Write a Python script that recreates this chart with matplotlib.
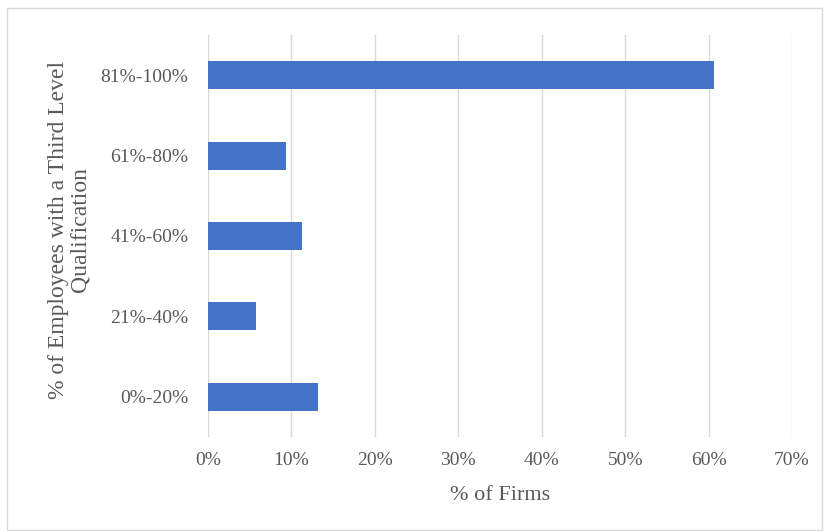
import matplotlib
matplotlib.use("Agg")
import matplotlib.pyplot as plt
from matplotlib.patches import Rectangle
from matplotlib.ticker import FuncFormatter

categories = ["0%-20%", "21%-40%", "41%-60%", "61%-80%", "81%-100%"]
values = [13.2, 5.7, 11.3, 9.4, 60.6]
xticks = [0, 10, 20, 30, 40, 50, 60, 70]

plt.rcParams['font.family'] = ['Liberation Serif', 'DejaVu Serif']
txt = '#595959'

fig = plt.figure(figsize=(8.24, 5.31), dpi=100)
fig.patches.append(Rectangle((7/824, 1/531), 815/824, 522/531, transform=fig.transFigure,
                             fill=False, edgecolor='#D9D9D9', linewidth=1))
ax = fig.add_axes([208/824, 1-437/531, 584/824, 402/531])
ax.barh(range(len(categories)), values, height=0.35, color='#4472C4', zorder=3)
ax.set_xlim(0, 70)
ax.set_ylim(-0.5, len(categories) - 0.5)
ax.set_xticks(xticks)
ax.xaxis.set_major_formatter(FuncFormatter(lambda v, p: f"{int(v)}%"))
ax.set_yticks(range(len(categories)))
ax.set_yticklabels(categories)
ax.grid(axis='x', color='#D9D9D9', linewidth=1, zorder=0)
for s in ax.spines.values():
    s.set_visible(False)
ax.tick_params(axis='both', length=0, labelsize=14, colors=txt)
ax.tick_params(axis='y', pad=14)
ax.tick_params(axis='x', pad=11)
ax.set_xlabel("% of Firms", fontsize=16, color=txt, labelpad=12)
ax.set_ylabel("% of Employees with a Third Level\nQualification", fontsize=17, color=txt,
              linespacing=1.0)
ax.yaxis.set_label_coords(90/824, 1 - 230/531, transform=fig.transFigure)
fig.savefig("out.png", dpi=100)
